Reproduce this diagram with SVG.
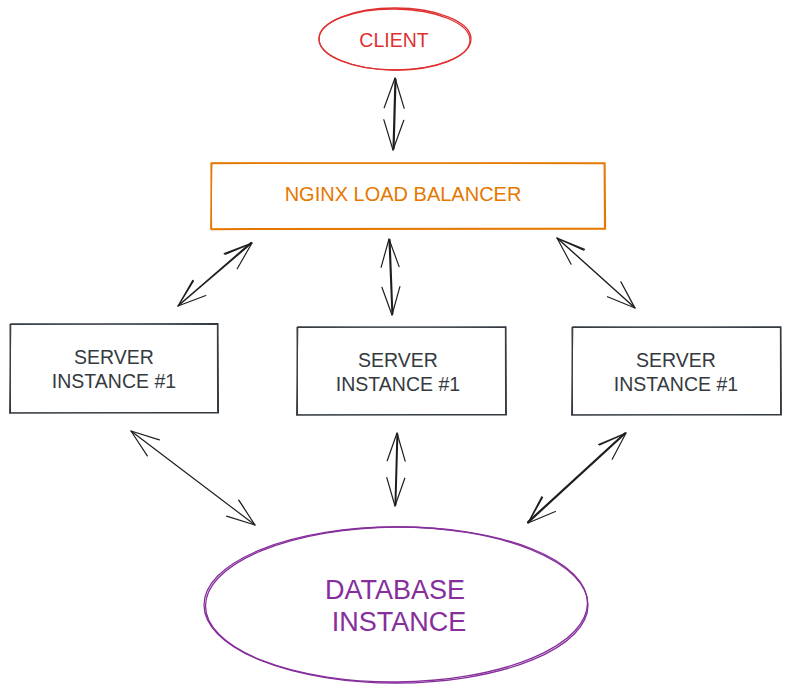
<svg xmlns="http://www.w3.org/2000/svg" width="790" height="689" viewBox="0 0 790 689">
<style>
.bg{fill:#ffffff}
.client{fill:none;stroke:#e03131;stroke-width:1.3}
.lb{fill:none;stroke:#e67700;stroke-width:1.3}
.srv{fill:none;stroke:#343a40;stroke-width:1.1}
.db{fill:none;stroke:#862e9c;stroke-width:1.3}
.arr{fill:none;stroke:#1e1e1e;stroke-width:1.2;stroke-linecap:round;stroke-linejoin:round}
.t{font-family:"Liberation Sans",Arial,sans-serif;text-anchor:middle}
.tc{fill:#e03131;font-size:19.5px}
.tl{fill:#e67700;font-size:20px}
.ts{fill:#343a40;font-size:19.5px}
.td{fill:#862e9c;font-size:27px}
</style>
<rect class="bg" x="0" y="0" width="790" height="689"/>
<g id="client">
<ellipse class="client" cx="395" cy="39" rx="76" ry="31"/>
<ellipse class="client" cx="394.5" cy="39.5" rx="75.5" ry="30.5" transform="rotate(0.6 395 39)"/>
<text class="t tc" x="394" y="47">CLIENT</text>
</g>
<g id="nginx">
<path class="lb" d="M211 163.5 L605 162.8 L605.5 229 L211.5 229.5 Z"/>
<path class="lb" d="M211.8 162.8 L604.2 163.6 L604.6 228.4 L210.8 228.8 Z"/>
<text class="t tl" x="403" y="201">NGINX LOAD BALANCER</text>
</g>
<g id="server1">
<path class="srv" d="M10 324.5 L218 323.5 L218.5 413 L10.5 412.5 Z"/>
<path class="srv" d="M10.8 323.8 L217.4 324.4 L217.6 412.4 L9.6 413.2 Z"/>
<text class="t ts" x="114" y="364">SERVER</text>
<text class="t ts" x="114" y="388">INSTANCE #1</text>
</g>
<g id="server2">
<path class="srv" d="M297 327.5 L506 326.8 L506.4 415 L297.5 414.5 Z"/>
<path class="srv" d="M297.8 326.8 L505.4 327.5 L505.6 414.4 L296.6 415.2 Z"/>
<text class="t ts" x="398" y="367">SERVER</text>
<text class="t ts" x="398" y="391">INSTANCE #1</text>
</g>
<g id="server3">
<path class="srv" d="M572 327.5 L781 326.8 L781.4 415 L572.5 414.5 Z"/>
<path class="srv" d="M572.8 326.8 L780.4 327.5 L780.6 414.4 L571.6 415.2 Z"/>
<text class="t ts" x="676" y="367">SERVER</text>
<text class="t ts" x="676" y="391">INSTANCE #1</text>
</g>
<g id="database">
<ellipse class="db" cx="396" cy="605" rx="192" ry="78"/>
<ellipse class="db" cx="396.5" cy="604.5" rx="191" ry="77.5" transform="rotate(-0.5 396 605)"/>
<text class="t td" x="395" y="599">DATABASE</text>
<text class="t td" x="399" y="631">INSTANCE</text>
</g>
<g id="connectors">
<path class="arr" d="M395 78 L393 150 M396 79 L394 149"/>
<path class="arr" d="M384.2 107.7 L395 78 L404.2 108.3 M383.8 119.7 L393 150 L403.8 120.3"/>
<path class="arr" d="M252 243 L178 306 M251 242.5 L179 305"/>
<path class="arr" d="M224.2 253.5 L252 243 L237.2 268.7 M192.8 280.3 L178 306 L205.8 295.5 M225 254.5 L251.5 243.5 M193.5 281 L178.5 305.5"/>
<path class="arr" d="M389 239 L392 315 M390 239.5 L392.8 314"/>
<path class="arr" d="M381.1 267.3 L389 239 L399.1 266.6 M381.9 287.3 L392 315 L399.9 286.6"/>
<path class="arr" d="M557 238 L635 308 M558 238.6 L634 307"/>
<path class="arr" d="M584.5 249.3 L557 238 L571.1 264.2 M620.9 281.9 L635 308 L607.5 296.7 M583.8 250.2 L557.5 238.5 M621.5 283 L634.5 307.5"/>
<path class="arr" d="M131 431 L255 525"/>
<path class="arr" d="M159.4 439.9 L131 431 L147.3 455.9 M238.7 500.1 L255 525 L226.6 516.1 M239.5 501 L254.5 524.5"/>
<path class="arr" d="M397 433 L395 506 M397.8 434 L395.8 505"/>
<path class="arr" d="M387.2 460.7 L397 433 L405.2 461.2 M386.8 477.7 L395 506 L404.8 478.2"/>
<path class="arr" d="M626 433 L528 523 M625 432.8 L527.5 522"/>
<path class="arr" d="M598.6 444.5 L626 433 L612.2 459.3 M541.8 496.7 L528 523 L555.4 511.5 M599.5 445 L625.5 433.5 M542.5 497.5 L528.5 522.5"/>
</g>
</svg>
